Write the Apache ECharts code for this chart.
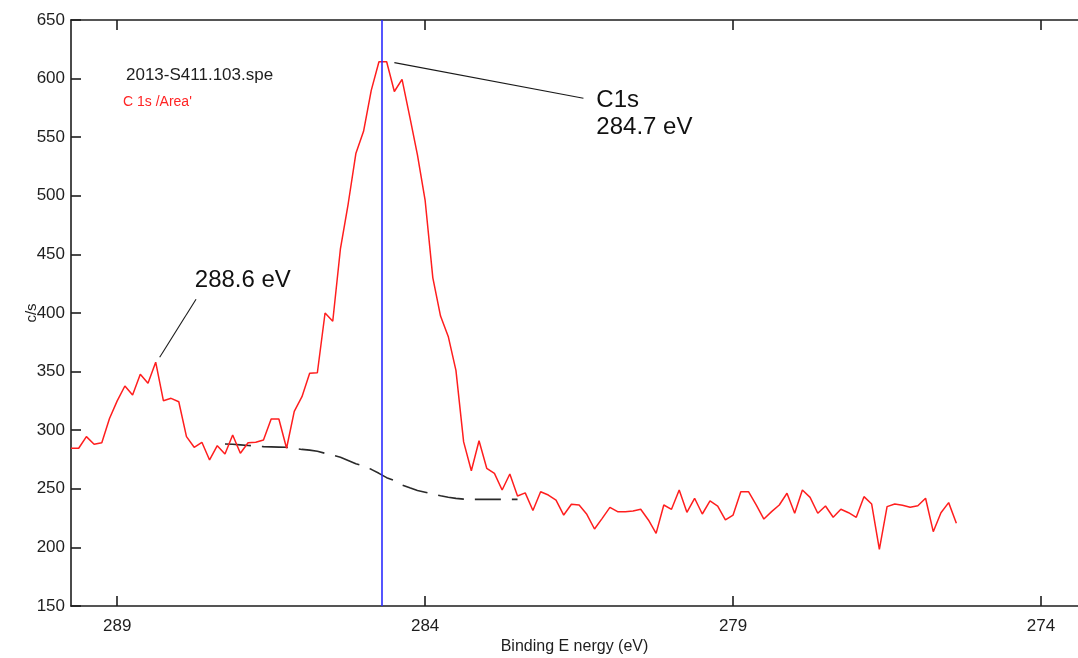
<!DOCTYPE html>
<html>
<head>
<meta charset="utf-8">
<title>C1s XPS spectrum</title>
<script src="https://cdn.jsdelivr.net/npm/echarts@6/dist/echarts.min.js"></script>
<style>
  html, body { margin: 0; padding: 0; background: #ffffff; }
  #chart { width: 1078px; height: 658px; }
</style>
</head>
<body>
<div id="chart"></div>
<script>
// ---- Spectrum data: C 1s region, binding energy scan from high to low ----
const START_EV = 289.75;   // first channel (eV)
const STEP_EV = 0.125;     // channel spacing (eV)

// Counts per second for each channel
const counts = [
  284.6, 284.6, 294.5, 288.0, 289.3, 310.0, 325.0, 337.7, 330.0, 347.7,
  340.0, 358.0, 325.2, 327.2, 324.3, 294.5, 285.4, 289.7, 274.6, 286.8,
  279.7, 295.9, 280.3, 289.3, 289.7, 291.6, 309.6, 309.6, 284.6, 316.0,
  328.6, 348.5, 349.0, 400.0, 393.0, 455.0, 493.0, 536.0, 555.0, 590.0,
  614.4, 614.4, 589.0, 599.4, 567.5, 535.0, 496.0, 430.0, 397.4, 380.0,
  351.0, 290.0, 265.4, 291.0, 267.5, 263.2, 249.0, 262.6, 243.9, 246.5,
  231.5, 247.5, 244.7, 240.4, 227.6, 236.8, 236.2, 228.2, 215.7, 224.8,
  234.2, 230.5, 230.5, 231.0, 232.5, 223.4, 212.0, 236.2, 232.5, 249.0,
  229.9, 241.9, 228.5, 239.6, 235.3, 223.4, 227.6, 247.5, 247.5, 236.2,
  224.2, 230.5, 236.2, 246.2, 229.1, 249.0, 242.7, 229.1, 235.3, 225.7,
  232.5, 229.6, 225.7, 243.3, 237.0, 198.3, 234.8, 237.0, 236.0, 234.2,
  235.5, 241.9, 213.4, 229.6, 238.2, 220.6
];

// Shirley background under the peak, starting at channel BG_START
const BG_START = 20;
const background = [
  288.2, 288.0, 287.5, 287.0, 286.5, 286.0, 285.8, 285.6, 285.4, 284.5,
  283.6, 283.0, 282.0, 280.3, 278.7, 277.0, 274.2, 271.3, 269.5, 266.6,
  263.2, 259.5, 257.0, 253.3, 250.8, 248.5, 247.1, 245.5, 244.0, 242.8,
  241.8, 241.2, 241.0, 241.0, 241.0, 241.0, 241.0, 241.0, 241.0
];

// Axis ranges and tick labels
const X_MAX = 289.75;
const X_MIN = 273.4;
const xTicks = [289, 284, 279, 274];
const Y_MIN = 150;
const Y_MAX = 650;
const Y_STEP = 50;

// Peak annotations
const C1S_EV = 284.7;
const CO_EV = 288.6;
const fileName = '2013-S411.103.spe';
const regionName = "C 1s /Area'";

// ---- Build series pairs ----
const energyOf = i => START_EV - i * STEP_EV;
const spectrum = counts.map((c, i) => [energyOf(i), c]);
const bgLine = background.map((b, k) => [energyOf(BG_START + k), b]);

const FONT = '"Liberation Sans", Arial, Helvetica, sans-serif';
const INK = '#1e1e1e';

const chart = echarts.init(document.getElementById('chart'), null, { renderer: 'canvas' });

const xCommon = {
  type: 'value',
  min: X_MIN,
  max: X_MAX,
  inverse: true,
  splitLine: { show: false },
  axisLine: { show: true, onZero: false, lineStyle: { color: INK, width: 1.6 } },
  axisTick: { show: true, inside: true, length: 10, customValues: xTicks, lineStyle: { color: INK, width: 1.6 } }
};

chart.setOption({
  animation: false,
  backgroundColor: '#ffffff',
  textStyle: { fontFamily: FONT },
  grid: { left: 71, right: 0, top: 20, bottom: 52, containLabel: false, outerBoundsMode: 'none' },
  xAxis: [
    Object.assign({}, xCommon, {
      position: 'bottom',
      axisLabel: { show: true, customValues: xTicks, fontSize: 17, color: INK, margin: 12, fontFamily: FONT },
      name: 'Binding E nergy (eV)',
      nameLocation: 'middle',
      nameGap: 33,
      nameMoveOverlap: false,
      nameTextStyle: { fontSize: 16, color: INK, fontFamily: FONT }
    }),
    Object.assign({}, xCommon, {
      position: 'top',
      axisLabel: { show: false }
    })
  ],
  yAxis: {
    type: 'value',
    min: Y_MIN,
    max: Y_MAX,
    interval: Y_STEP,
    splitLine: { show: false },
    axisLine: { show: true, onZero: false, lineStyle: { color: INK, width: 1.6 } },
    axisTick: { show: true, inside: true, length: 10, lineStyle: { color: INK, width: 1.6 } },
    axisLabel: { fontSize: 17, color: INK, margin: 6, fontFamily: FONT },
    name: 'c/s',
    nameLocation: 'middle',
    nameRotate: 90,
    nameGap: 39,
    nameMoveOverlap: false,
    nameTextStyle: { fontSize: 15, color: INK, fontFamily: FONT, verticalAlign: 'middle' }
  },
  series: [
    {
      name: 'Background',
      type: 'line',
      data: bgLine,
      symbol: 'none',
      silent: true,
      z: 2,
      lineStyle: { color: '#2a2a2a', width: 1.6, type: [26, 11] }
    },
    {
      name: 'C1s',
      type: 'line',
      data: spectrum,
      symbol: 'none',
      silent: true,
      z: 3,
      lineStyle: { color: '#ff1e1e', width: 1.5 },
      markLine: {
        silent: true,
        symbol: ['none', 'none'],
        label: { show: false },
        lineStyle: { color: '#1a1a1a', width: 1.1, type: 'solid' },
        data: [
          [{ coord: [284.5, 613.6] }, { coord: [281.43, 583.2] }],
          [{ coord: [288.31, 362.2] }, { coord: [287.72, 411.7] }]
        ]
      },
      markPoint: {
        silent: true,
        symbol: 'circle',
        symbolSize: 0,
        data: [
          {
            coord: [281.22, 570.0],
            label: {
              show: true, position: 'right', distance: 0,
              formatter: 'C1s\n' + C1S_EV.toFixed(1) + ' eV',
              fontSize: 24, lineHeight: 27.5, color: '#111', fontFamily: FONT, align: 'left'
            }
          },
          {
            coord: [287.74, 427.7],
            label: {
              show: true, position: 'right', distance: 0,
              formatter: CO_EV.toFixed(1) + ' eV',
              fontSize: 24, color: '#111', fontFamily: FONT, align: 'left'
            }
          }
        ]
      }
    },
    {
      name: 'Peak position',
      type: 'line',
      data: [],
      silent: true,
      z: 4,
      markLine: {
        silent: true,
        symbol: ['none', 'none'],
        label: { show: false },
        lineStyle: { color: '#2b2bff', width: 1.6, type: 'solid' },
        data: [{ xAxis: C1S_EV }]
      }
    }
  ],
  graphic: [
    {
      type: 'text', x: 126, y: 75, silent: true,
      style: { text: fileName, font: '17px ' + FONT, fill: INK, align: 'left', verticalAlign: 'middle' }
    },
    {
      type: 'text', x: 123, y: 102, silent: true,
      style: { text: regionName, font: '14px ' + FONT, fill: '#ff2424', align: 'left', verticalAlign: 'middle' }
    }
  ]
});
</script>
</body>
</html>
